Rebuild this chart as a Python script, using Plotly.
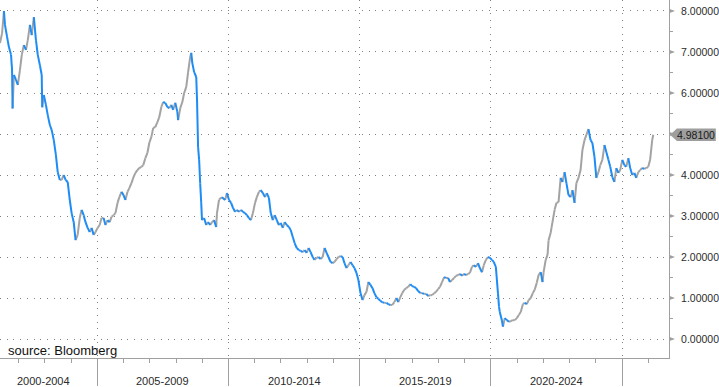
import plotly.graph_objects as go

# ---- data (decimal year, value) ----
years = [
    2001.29, 2001.37, 2001.44, 2001.48, 2001.56, 2001.63, 2001.71, 2001.75, 2001.77, 2001.82, 2001.90, 2001.97,
    2002.05, 2002.12, 2002.20, 2002.28, 2002.35, 2002.43, 2002.50, 2002.58, 2002.66, 2002.73, 2002.81,
    2002.88, 2002.90, 2002.96, 2003.04, 2003.11, 2003.19, 2003.26, 2003.34, 2003.42, 2003.49, 2003.57,
    2003.64, 2003.72, 2003.79, 2003.87, 2003.95, 2004.02, 2004.10, 2004.17, 2004.25, 2004.33, 2004.40,
    2004.48, 2004.55, 2004.63, 2004.71, 2004.78, 2004.86, 2004.93, 2005.01, 2005.09, 2005.16, 2005.24,
    2005.31, 2005.39, 2005.47, 2005.54, 2005.62, 2005.69, 2005.77, 2005.84, 2005.92, 2006.00, 2006.07,
    2006.15, 2006.22, 2006.30, 2006.38, 2006.45, 2006.53, 2006.60, 2006.68, 2006.75, 2006.83, 2006.91,
    2006.98, 2007.06, 2007.13, 2007.21, 2007.29, 2007.36, 2007.44, 2007.51, 2007.59, 2007.67, 2007.74,
    2007.82, 2007.89, 2007.97, 2008.05, 2008.08, 2008.16, 2008.24, 2008.31, 2008.39, 2008.46, 2008.54,
    2008.58, 2008.62, 2008.69, 2008.77, 2008.80, 2008.84, 2008.88, 2008.92, 2008.96, 2008.99, 2009.07,
    2009.15, 2009.22, 2009.30, 2009.37, 2009.45, 2009.53, 2009.56, 2009.64, 2009.75, 2009.87, 2009.94,
    2010.02, 2010.10, 2010.17, 2010.25, 2010.32, 2010.40, 2010.48, 2010.55, 2010.63, 2010.70, 2010.78,
    2010.85, 2010.93, 2011.01, 2011.08, 2011.16, 2011.23, 2011.31, 2011.39, 2011.46, 2011.54, 2011.61,
    2011.69, 2011.76, 2011.84, 2011.92, 2011.99, 2012.07, 2012.14, 2012.22, 2012.30, 2012.37, 2012.45,
    2012.52, 2012.60, 2012.68, 2012.75, 2012.83, 2012.90, 2012.98, 2013.05, 2013.13, 2013.21, 2013.28,
    2013.36, 2013.43, 2013.51, 2013.59, 2013.66, 2013.74, 2013.81, 2013.89, 2013.97, 2014.04, 2014.12,
    2014.19, 2014.27, 2014.35, 2014.42, 2014.50, 2014.57, 2014.65, 2014.73, 2014.80, 2014.88, 2014.95,
    2015.03, 2015.11, 2015.18, 2015.26, 2015.33, 2015.41, 2015.49, 2015.56, 2015.64, 2015.71, 2015.79,
    2015.86, 2015.94, 2016.02, 2016.09, 2016.17, 2016.24, 2016.32, 2016.40, 2016.47, 2016.55, 2016.62,
    2016.70, 2016.77, 2016.85, 2016.93, 2017.00, 2017.08, 2017.15, 2017.23, 2017.31, 2017.38, 2017.46,
    2017.54, 2017.61, 2017.69, 2017.76, 2017.84, 2017.91, 2017.99, 2018.06, 2018.14, 2018.22, 2018.29,
    2018.37, 2018.44, 2018.52, 2018.60, 2018.67, 2018.75, 2018.83, 2018.90, 2018.98, 2019.05, 2019.13,
    2019.20, 2019.28, 2019.35, 2019.43, 2019.51, 2019.58, 2019.66, 2019.73, 2019.81, 2019.89, 2019.96,
    2020.04, 2020.11, 2020.19, 2020.23, 2020.27, 2020.31, 2020.34, 2020.42, 2020.46, 2020.53, 2020.61,
    2020.69, 2020.76, 2020.84, 2020.91, 2020.99, 2021.07, 2021.14, 2021.22, 2021.29, 2021.37, 2021.44,
    2021.52, 2021.60, 2021.67, 2021.75, 2021.82, 2021.90, 2021.97, 2022.01, 2022.09, 2022.16, 2022.20,
    2022.28, 2022.31, 2022.43, 2022.50, 2022.58, 2022.66, 2022.73, 2022.81, 2022.88, 2022.96, 2023.04,
    2023.11, 2023.19, 2023.26, 2023.34, 2023.42, 2023.49, 2023.57, 2023.64, 2023.72, 2023.80, 2023.87,
    2023.95, 2024.02, 2024.10, 2024.17, 2024.25, 2024.33, 2024.40, 2024.48, 2024.55, 2024.63, 2024.71,
    2024.78, 2024.86, 2024.93, 2025.01, 2025.09, 2025.16, 2025.24, 2025.31, 2025.39, 2025.47, 2025.54,
    2025.62, 2025.69, 2025.77, 2025.85, 2025.92, 2026.00, 2026.07, 2026.11, 2026.15, 2026.19,
]
values = [
    7.22, 7.46, 8.00, 7.66, 7.37, 7.12, 6.93, 6.56, 5.62, 6.44, 6.32, 6.20,
    6.56, 6.93, 7.17, 7.05, 7.29, 7.66, 7.41, 7.85, 7.29, 6.93, 6.68,
    6.44, 5.65, 5.95, 5.71, 5.46, 5.22, 5.10, 4.85, 4.49, 4.07, 3.88,
    3.88, 4.00, 3.88, 3.83, 3.39, 3.07, 2.85, 2.41, 2.54, 2.95, 3.15,
    3.02, 2.85, 2.71, 2.61, 2.71, 2.54, 2.61, 2.71, 2.78, 2.95, 2.95,
    2.78, 2.90, 2.85, 2.98, 3.02, 3.07, 3.32, 3.46, 3.59, 3.51, 3.39,
    3.59, 3.68, 3.80, 3.95, 4.05, 4.12, 4.17, 4.20, 4.24, 4.41, 4.54,
    4.78, 4.93, 5.15, 5.17, 5.29, 5.41, 5.66, 5.78, 5.76, 5.66, 5.63,
    5.71, 5.59, 5.76, 5.54, 5.34, 5.63, 5.78, 6.00, 6.15, 6.51, 6.88,
    6.98, 6.73, 6.51, 6.39, 5.83, 4.68, 4.37, 3.80, 3.32, 2.90, 2.95,
    2.78, 2.85, 2.78, 2.85, 2.90, 2.73, 3.07, 3.40, 3.46, 3.39, 3.56,
    3.39, 3.32, 3.20, 3.10, 3.15, 3.10, 3.15, 3.10, 3.07, 3.02, 2.95,
    2.90, 3.07, 3.32, 3.46, 3.59, 3.63, 3.56, 3.46, 3.56, 3.44, 3.07,
    2.90, 3.02, 2.90, 2.78, 2.83, 2.71, 2.85, 2.78, 2.73, 2.66, 2.49,
    2.34, 2.22, 2.17, 2.15, 2.12, 2.17, 2.10, 2.22, 2.12, 2.00, 1.93,
    1.98, 2.00, 1.95, 2.00, 2.22, 2.10, 2.00, 1.88, 1.85, 1.88, 1.95,
    2.00, 2.02, 2.00, 1.85, 1.73, 1.80, 1.88, 1.80, 1.73, 1.61, 1.44,
    1.12, 0.95, 1.07, 1.15, 1.39, 1.32, 1.24, 1.12, 1.02, 0.98, 0.93,
    0.90, 0.88, 0.88, 0.85, 0.83, 0.83, 0.90, 1.00, 0.90, 1.02, 1.12,
    1.20, 1.24, 1.27, 1.34, 1.29, 1.27, 1.24, 1.17, 1.12, 1.12, 1.10,
    1.10, 1.05, 1.07, 1.07, 1.12, 1.15, 1.22, 1.27, 1.39, 1.51, 1.49,
    1.49, 1.39, 1.44, 1.49, 1.54, 1.56, 1.59, 1.54, 1.59, 1.56, 1.59,
    1.61, 1.76, 1.80, 1.76, 1.85, 1.73, 1.63, 1.80, 1.93, 2.00, 1.98,
    1.93, 1.88, 1.76, 1.44, 1.12, 0.79, 0.66, 0.46, 0.30, 0.51, 0.46,
    0.42, 0.44, 0.46, 0.46, 0.51, 0.59, 0.66, 0.85, 0.88, 0.85, 0.95,
    1.00, 1.12, 1.20, 1.37, 1.56, 1.63, 1.39, 1.63, 1.93, 2.05, 2.41,
    2.59, 2.71, 3.15, 3.32, 3.34, 3.93, 3.83, 4.07, 3.80, 3.51, 3.46,
    3.63, 3.32, 3.80, 3.93, 4.12, 4.61, 4.85, 4.98, 5.12, 4.85, 4.78,
    4.44, 3.93, 4.07, 4.24, 4.37, 4.73, 4.56, 4.37, 4.20, 3.95, 3.83,
    4.17, 4.05, 4.12, 4.37, 4.24, 4.20, 4.41, 4.17, 4.00, 4.05, 3.93,
    4.07, 4.12, 4.17, 4.15, 4.17, 4.20, 4.37, 4.61, 4.85, 4.981,
]

last_value = 4.981
period_labels = ["2000-2004", "2005-2009", "2010-2014", "2015-2019", "2020-2024"]
period_label_pos = [2002.96, 2007.5, 2012.5, 2017.5, 2022.5]
period_bounds = [2005, 2010, 2015, 2020, 2025]
y_ticks = [0, 1, 2, 3, 4, 5, 6, 7, 8]
hidden_tick = 5  # covered by the last-value tag in the reference

BLUE = "#1E8CF5"
GREY = "#A3A3A3"
AXIS = "#A0A0A0"
GRID = "#7F7F7F"
TXT = "#2B2B2B"

# split into rising (grey) and falling (blue) segments
up_x, up_y, dn_x, dn_y = [], [], [], []
for i in range(len(values) - 1):
    seg_x = [years[i], years[i + 1], None]
    seg_y = [values[i], values[i + 1], None]
    if values[i + 1] >= values[i]:
        up_x += seg_x
        up_y += seg_y
    else:
        dn_x += seg_x
        dn_y += seg_y

fig = go.Figure()
fig.add_trace(go.Scatter(x=up_x, y=up_y, mode="lines", line=dict(color=GREY, width=2),
                         hoverinfo="skip", showlegend=False))
fig.add_trace(go.Scatter(x=dn_x, y=dn_y, mode="lines", line=dict(color=BLUE, width=2),
                         hoverinfo="skip", showlegend=False))

W, H = 719, 387
L, R, T, B = 0, 47, 0, 29
plot_w = W - L - R
px = 1.0 / plot_w

fig.update_layout(
    width=W, height=H,
    margin=dict(l=L, r=R, t=T, b=B, pad=0),
    paper_bgcolor="white", plot_bgcolor="white",
    font=dict(family="Liberation Sans, Arial, sans-serif", color=TXT, size=11),
    xaxis=dict(
        range=[2001.29, 2026.79], showgrid=True, gridcolor=GRID, gridwidth=1, griddash="1px,5.7px",
        tickmode="array", tickvals=period_bounds, showticklabels=False,
        ticks="outside", ticklen=27, tickcolor=AXIS, tickwidth=1,
        minor=dict(dtick=1, tick0=2000, ticks="outside", ticklen=4, tickcolor=AXIS, showgrid=False),
        showline=True, linecolor=AXIS, linewidth=1, zeroline=False,
    ),
    yaxis=dict(
        side="right", range=[-0.463, 8.268], showgrid=True, gridcolor=GRID, gridwidth=1,
        griddash="1px,5.7px", tickmode="array", tickvals=y_ticks,
        ticktext=["" if v == hidden_tick else f"{v:.5f}" for v in y_ticks],
        ticks="outside", ticklen=7,
        tickcolor="rgba(0,0,0,0)", ticklabelstandoff=2,
        tickfont=dict(size=10.5, color=TXT),
        minor=dict(dtick=0.5, tick0=0, ticks="outside", ticklen=3, tickcolor=AXIS, showgrid=False),
        showline=True, linecolor=AXIS, linewidth=1, zeroline=False,
    ),
)

shapes = []
# triangle tick markers on the value axis
for v in y_ticks:
    hh = 2.2 / 41.0
    shapes.append(dict(type="path", xref="paper", yref="y",
                       path=f"M 1,{v + hh} L {1 + 6 * px},{v} L 1,{v - hh} Z",
                       fillcolor=AXIS, line=dict(width=0), layer="above"))
# last value tag
hh = 6.2 / 41.0
shapes.append(dict(type="path", xref="paper", yref="y",
                   path=(f"M {1 + 1 * px},{last_value} L {1 + 8 * px},{last_value + hh} "
                         f"L {1 + 47 * px},{last_value + hh} L {1 + 47 * px},{last_value - hh} "
                         f"L {1 + 8 * px},{last_value - hh} Z"),
                   fillcolor="#9E9E9E", line=dict(width=0), layer="above"))
fig.update_layout(shapes=shapes)

ann = []
ann.append(dict(xref="paper", yref="y", x=1 + 27 * px, y=last_value, text=f"{last_value:.5f}",
                showarrow=False, xanchor="center", yanchor="middle",
                font=dict(size=10.5, color="#1A1A1A")))
for lab, pos in zip(period_labels, period_label_pos):
    ann.append(dict(xref="x", yref="paper", x=pos, y=-23 / 358, text=lab, showarrow=False,
                    xanchor="center", yanchor="middle", font=dict(size=11, color=TXT)))
ann.append(dict(xref="paper", yref="paper", x=6 * px, y=8 / 358, text="source: Bloomberg",
                showarrow=False, xanchor="left", yanchor="middle",
                font=dict(size=13, color="#111111")))
fig.update_layout(annotations=ann)

fig.write_html("out.html")
